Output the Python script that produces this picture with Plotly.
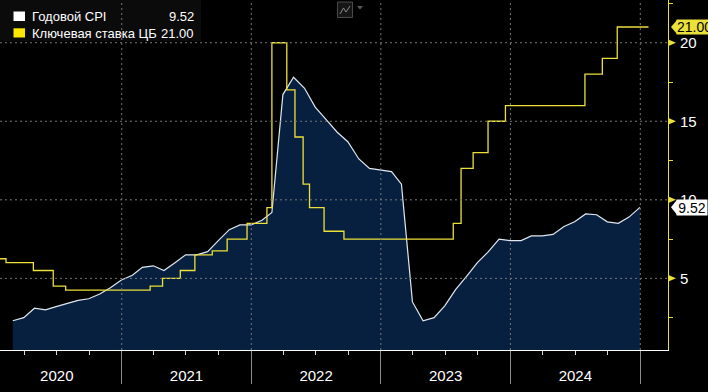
import pandas as pd
import plotly.graph_objects as go

# ---------------- data ----------------
cpi_name = "Годовой CPI"
cpi_first_month_end = "2020-02-29"
cpi_values = [2.3, 2.5, 3.1, 3.0, 3.2, 3.4, 3.6, 3.7, 4.0, 4.4, 4.9,
              5.2, 5.7, 5.8, 5.5, 6.0, 6.5, 6.5, 6.7, 7.4, 8.1, 8.4, 8.4,
              8.7, 9.2, 16.7, 17.8, 17.1, 15.9, 15.1, 14.3, 13.7, 12.6, 12.0, 11.9,
              11.8, 11.0, 3.5, 2.3, 2.5, 3.25, 4.3, 5.15, 6.0, 6.7, 7.5, 7.4,
              7.4, 7.7, 7.7, 7.8, 8.3, 8.6, 9.1, 9.05, 8.6, 8.5, 8.9, 9.52]
cpi_dates = pd.date_range(cpi_first_month_end, periods=len(cpi_values), freq="ME")

rate_name = "Ключевая ставка ЦБ"
rate_dates = ["2019-12-16", "2020-02-10", "2020-04-27", "2020-06-22", "2020-07-27",
              "2021-03-22", "2021-04-26", "2021-06-15", "2021-07-26", "2021-09-13",
              "2021-10-25", "2021-12-20", "2022-02-14", "2022-02-28", "2022-04-11",
              "2022-05-04", "2022-05-27", "2022-06-14", "2022-07-25", "2022-09-19",
              "2023-07-24", "2023-08-15", "2023-09-18", "2023-10-30", "2023-12-18",
              "2024-07-29", "2024-09-16", "2024-10-28", "2025-01-24"]
rate_values = [6.25, 6.0, 5.5, 4.5, 4.25, 4.5, 5.0, 5.5, 6.5, 6.75, 7.5, 8.5, 9.5,
               20.0, 17.0, 14.0, 11.0, 9.5, 8.0, 7.5, 8.5, 12.0, 13.0, 15.0, 16.0,
               18.0, 19.0, 21.0, 21.0]

y_ticks = [5, 10, 15, 20]
year_lines = ["2021-01-01", "2022-01-01", "2023-01-01", "2024-01-01", "2025-01-01"]
x_range = ["2020-01-24", "2025-03-20"]
y_range = [0.44, 22.72]

# ---------------- style ----------------
W, H = 708, 392
ML, MR, MT, MB = 0, 40, 0, 42
PW, PH = W - ML - MR, H - MT - MB
BG = "#000000"
NAVY = "#08203f"
CPI_LINE = "#dfe7f0"
YELLOW = "#ece03a"
GRID = "#767676"
AX_FONT = "Liberation Sans Narrow, Liberation Sans, Arial"
LEG_FONT = "Liberation Sans, Arial"


def px(x):
    return x / PW


def py(y):
    return 1 - y / PH


fig = go.Figure()
fig.add_trace(go.Scatter(x=cpi_dates, y=cpi_values, mode="lines", name=cpi_name,
                         line=dict(color=CPI_LINE, width=1.2),
                         fill="tozeroy", fillcolor=NAVY, showlegend=False))
fig.add_trace(go.Scatter(x=rate_dates, y=rate_values, mode="lines", name=rate_name,
                         line=dict(color=YELLOW, width=1.3, shape="hv"),
                         showlegend=False))

shapes = []
# legend box
shapes.append(dict(type="rect", xref="paper", yref="paper", x0=px(0), x1=px(201),
                   y0=py(41), y1=py(0), fillcolor="#0b0b0b", line=dict(width=0),
                   layer="below"))
# gridlines above the fill
for d in year_lines:
    shapes.append(dict(type="line", xref="x", yref="paper", x0=d, x1=d, y0=0, y1=1,
                       line=dict(color=GRID, width=1, dash="2px,3px"), layer="above"))
for v in y_ticks:
    shapes.append(dict(type="line", xref="paper", yref="y", x0=0, x1=1, y0=v, y1=v,
                       line=dict(color=GRID, width=1, dash="2px,3px"), layer="above"))
# triangular tick marks on the right axis
for v in y_ticks:
    shapes.append(dict(type="path", xref="paper", yref="y", xsizemode="pixel",
                       ysizemode="pixel", xanchor=1, yanchor=v,
                       path="M1,-3 L8,0 L1,3 Z", fillcolor=YELLOW,
                       line=dict(width=0), layer="above"))
# last-value tags pointers
shapes.append(dict(type="path", xref="paper", yref="y", xsizemode="pixel",
                   ysizemode="pixel", xanchor=1, yanchor=rate_values[-1],
                   path="M3,0 L9,-7 L9,7 Z", fillcolor=YELLOW,
                   line=dict(width=0), layer="above"))
shapes.append(dict(type="path", xref="paper", yref="y", xsizemode="pixel",
                   ysizemode="pixel", xanchor=1, yanchor=cpi_values[-1],
                   path="M3,0 L9,-7.5 L9,7.5 Z", fillcolor="#ffffff",
                   line=dict(width=0), layer="above"))
# legend squares
shapes.append(dict(type="rect", xref="paper", yref="paper", x0=px(13.5), x1=px(25),
                   y0=py(21), y1=py(11.5), fillcolor="#ffffff", line=dict(width=0)))
shapes.append(dict(type="rect", xref="paper", yref="paper", x0=px(13.5), x1=px(25),
                   y0=py(37.5), y1=py(28.3), fillcolor="#ffe800", line=dict(width=0)))
# toolbar icon
shapes.append(dict(type="rect", xref="paper", yref="paper", x0=px(337.5), x1=px(352.5),
                   y0=py(17.5), y1=py(2), fillcolor="#161616",
                   line=dict(color="#4a4a4a", width=1)))
shapes.append(dict(type="path", xref="paper", yref="paper",
                   path=f"M{px(340)},{py(14)} L{px(343.5)},{py(8)} L{px(346)},{py(12)} "
                        f"L{px(350)},{py(6)}",
                   line=dict(color="#8a8a8a", width=1)))
shapes.append(dict(type="path", xref="paper", yref="paper",
                   path=f"M{px(357)},{py(6)} L{px(363)},{py(6)} L{px(360)},{py(9.5)} Z",
                   fillcolor="#5a5a5a", line=dict(width=0)))

annotations = []
# legend texts
rows = [(cpi_name, f"{cpi_values[-1]:.2f}", 16.5),
        (rate_name, f"{rate_values[-1]:.2f}", 33.0)]
for name, val, yc in rows:
    annotations.append(dict(xref="paper", yref="paper", x=px(29.5), y=py(yc),
                            text=name, showarrow=False, xanchor="left", yanchor="middle",
                            font=dict(family=LEG_FONT, size=13, color="#ffffff")))
    annotations.append(dict(xref="paper", yref="paper", x=px(196), y=py(yc),
                            text=val, showarrow=False, xanchor="right", yanchor="middle",
                            font=dict(family=LEG_FONT, size=13, color="#ffffff")))
# last-value tags
annotations.append(dict(xref="paper", yref="y", x=1, y=rate_values[-1], xshift=8,
                        text=f"{rate_values[-1]:.2f}", showarrow=False,
                        xanchor="left", yanchor="middle", bgcolor=YELLOW,
                        height=14, width=34, align="left", borderpad=0,
                        font=dict(family=AX_FONT, size=14, color="#000000")))
annotations.append(dict(xref="paper", yref="y", x=1, y=cpi_values[-1], xshift=8,
                        text=f"{cpi_values[-1]:.2f}", showarrow=False,
                        xanchor="left", yanchor="middle", bgcolor="#ffffff",
                        height=15, width=30, align="center", borderpad=0,
                        font=dict(family=AX_FONT, size=14, color="#000000")))

fig.update_layout(
    width=W, height=H,
    margin=dict(l=ML, r=MR, t=MT, b=MB, autoexpand=False),
    paper_bgcolor=BG, plot_bgcolor=BG,
    showlegend=False,
    shapes=shapes, annotations=annotations,
    xaxis=dict(type="date", range=x_range, showgrid=False, zeroline=False,
               showline=True, linecolor="#ffffff", linewidth=1,
               tick0="2020-01-01", dtick="M12", tickformat="%Y",
               ticklabelmode="period", ticks="outside", ticklen=33,
               tickcolor="#8c8c8c", tickwidth=1, ticklabelstandoff=-21,
               tickfont=dict(family=AX_FONT, size=15, color="#ffffff"),
               minor=dict(ticks="outside", dtick="M3", tick0="2020-01-01",
                          ticklen=4, tickcolor="#d8d8d8", showgrid=False),
               fixedrange=True),
    yaxis=dict(side="right", range=y_range, showgrid=False, zeroline=False,
               showline=True, linecolor=YELLOW, linewidth=1,
               tickvals=y_ticks, ticks="outside", ticklen=8,
               tickcolor="rgba(0,0,0,0)",
               tickfont=dict(family=AX_FONT, size=15, color="#ffffff"),
               minor=dict(ticks="outside", dtick=2.5, tick0=0, ticklen=4,
                          tickcolor=YELLOW, showgrid=False),
               fixedrange=True),
)

fig.write_html("out.html", config={"displayModeBar": False},
               post_script="document.body.style.margin='0';"
                           "document.body.style.background='#000';"
                           "document.body.style.overflow='hidden';")
